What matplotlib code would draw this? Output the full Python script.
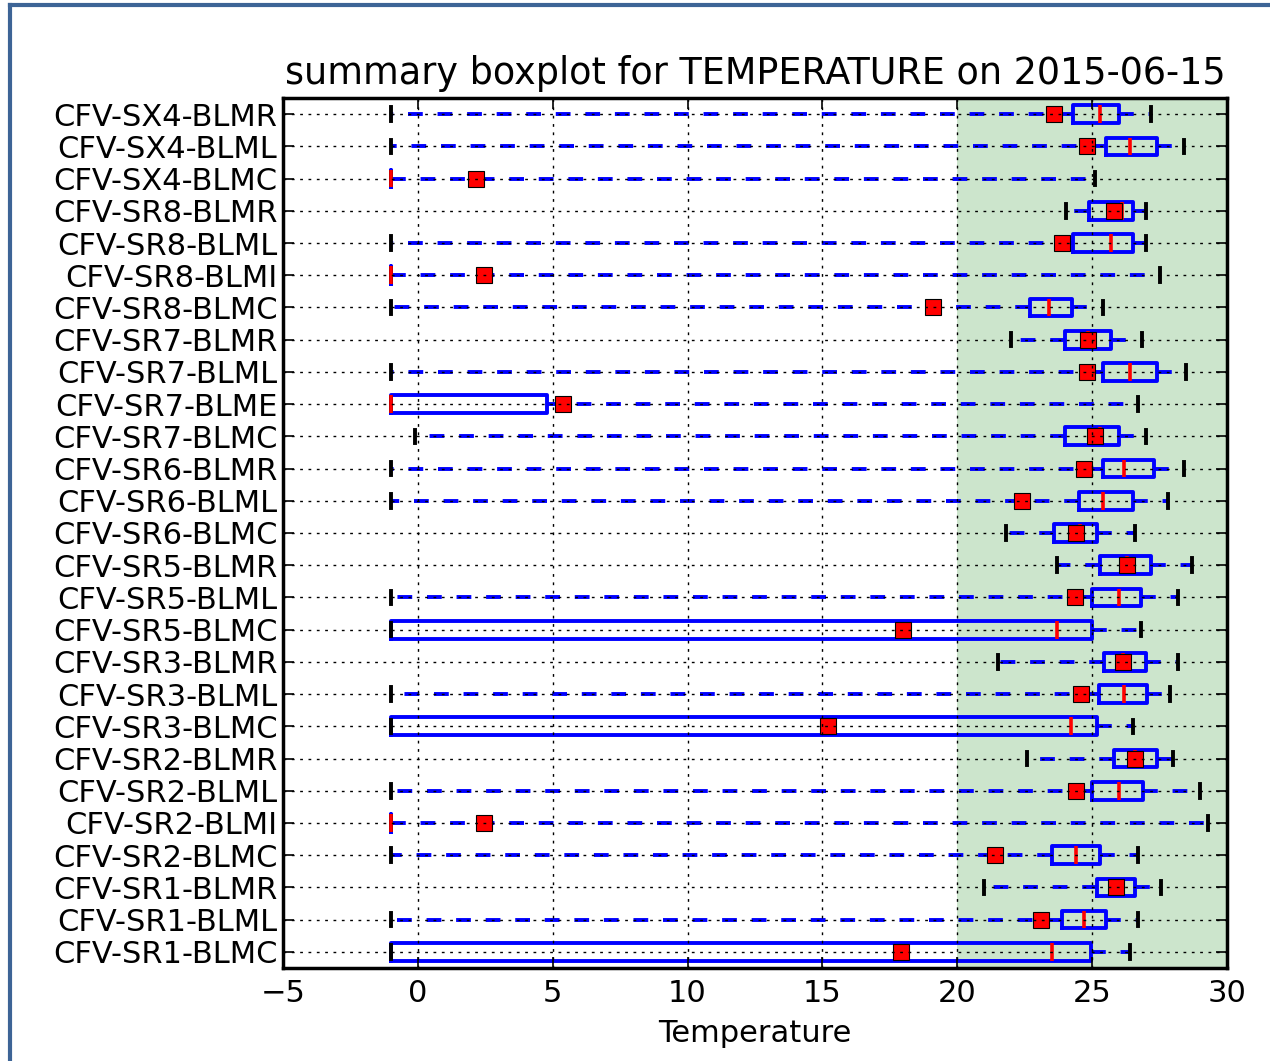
import matplotlib
matplotlib.use("Agg")
import matplotlib.pyplot as plt
from matplotlib.lines import Line2D

# rows listed bottom to top
sensors = ["CFV-SR1-BLMC", "CFV-SR1-BLML", "CFV-SR1-BLMR", "CFV-SR2-BLMC", "CFV-SR2-BLMI",
           "CFV-SR2-BLML", "CFV-SR2-BLMR", "CFV-SR3-BLMC", "CFV-SR3-BLML", "CFV-SR3-BLMR",
           "CFV-SR5-BLMC", "CFV-SR5-BLML", "CFV-SR5-BLMR", "CFV-SR6-BLMC", "CFV-SR6-BLML",
           "CFV-SR6-BLMR", "CFV-SR7-BLMC", "CFV-SR7-BLME", "CFV-SR7-BLML", "CFV-SR7-BLMR",
           "CFV-SR8-BLMC", "CFV-SR8-BLMI", "CFV-SR8-BLML", "CFV-SR8-BLMR", "CFV-SX4-BLMC",
           "CFV-SX4-BLML", "CFV-SX4-BLMR"]
whis_lo = [-1, -1, 21.0, -1, -1, -1, 22.6, -1, -1, 21.5, -1, -1, 23.7, 21.8, -1,
           -1, -0.1, -1, -1, 22.0, -1, -1, -1, 24.05, -1, -1, -1]
q1 = [-1, 23.9, 25.2, 23.5, -1, 25.0, 25.8, -1, 25.25, 25.45, -1, 25.0, 25.3, 23.6, 24.5,
      25.4, 24.0, -1, 25.4, 24.0, 22.7, -1, 24.3, 24.9, -1, 25.5, 24.3]
median = [23.5, 24.7, 25.9, 24.4, -1, 26.0, 26.6, 24.2, 26.2, 26.15, 23.7, 26.0, 26.3, 24.55, 25.4,
          26.2, 25.3, -1, 26.4, 24.85, 23.4, -1, 25.7, 26.1, -1, 26.4, 25.3]
q3 = [24.95, 25.5, 26.6, 25.3, -1, 26.9, 27.4, 25.2, 27.05, 27.0, 25.0, 26.8, 27.2, 25.2, 26.5,
      27.3, 26.0, 4.8, 27.4, 25.7, 24.25, -1, 26.5, 26.5, -1, 27.4, 26.0]
whis_hi = [26.4, 26.7, 27.55, 26.7, 29.3, 29.0, 28.0, 26.5, 27.9, 28.2, 26.8, 28.2, 28.7, 26.6, 27.8,
           28.4, 27.0, 26.7, 28.5, 26.85, 25.4, 27.5, 27.0, 27.0, 25.1, 28.4, 27.2]
mean = [17.9, 23.1, 25.9, 21.4, 2.45, 24.4, 26.6, 15.2, 24.6, 26.15, 18.0, 24.35, 26.3, 24.4, 22.4,
        24.7, 25.1, 5.4, 24.8, 24.85, 19.1, 2.45, 23.9, 25.8, 2.15, 24.8, 23.6]

stats = []
for i in range(len(sensors)):
    stats.append(dict(label=sensors[i], whislo=whis_lo[i], q1=q1[i], med=median[i],
                      q3=q3[i], whishi=whis_hi[i], mean=mean[i], fliers=[]))

fig = plt.figure(figsize=(12.7, 10.61), dpi=100)
ax = fig.add_axes([0.2228, 0.0877, 0.7433, 0.8199])

ax.axvspan(20, 30, color="green", alpha=0.2, lw=0)

ax.bxp(stats, positions=range(1, len(sensors) + 1), vert=False, widths=0.55, capwidths=0.42,
       showmeans=True, showfliers=False,
       boxprops=dict(color="b", linewidth=2.8),
       whiskerprops=dict(color="b", linewidth=2.8, linestyle=(0, (3.8, 3.8))),
       capprops=dict(color="k", linewidth=2.8),
       medianprops=dict(color="r", linewidth=2.6),
       meanprops=dict(marker="s", markerfacecolor="r", markeredgecolor="k",
                      markeredgewidth=0.8, markersize=12))

ax.set_axisbelow(False)
ax.grid(True, color="k", linestyle=(0, (2, 4)), linewidth=1.0)
ax.set_xlim(-5, 30)
ax.set_ylim(0.5, len(sensors) + 0.5)
ax.set_xticks(range(-5, 31, 5))
ax.set_xticklabels(["\u22125", "0", "5", "10", "15", "20", "25", "30"])
ax.tick_params(direction="in", length=8, width=1.2, labelsize=22, top=True, right=True)
ax.tick_params(axis="y", pad=4)
ax.tick_params(axis="x", pad=8)
for s in ax.spines.values():
    s.set_linewidth(2.5)

ax.set_title("summary boxplot for TEMPERATURE on 2015-06-15", fontsize=26.3, pad=10)
ax.set_xlabel("Temperature", fontsize=22, labelpad=8)

# frame line on left and top of the figure
fig.add_artist(Line2D([0.0079, 0.0079], [0, 0.9953], transform=fig.transFigure,
                      color="#3d6496", linewidth=3))
fig.add_artist(Line2D([0.0079, 1.0], [0.9953, 0.9953], transform=fig.transFigure,
                      color="#3d6496", linewidth=3))

fig.savefig("out.png", dpi=100)
